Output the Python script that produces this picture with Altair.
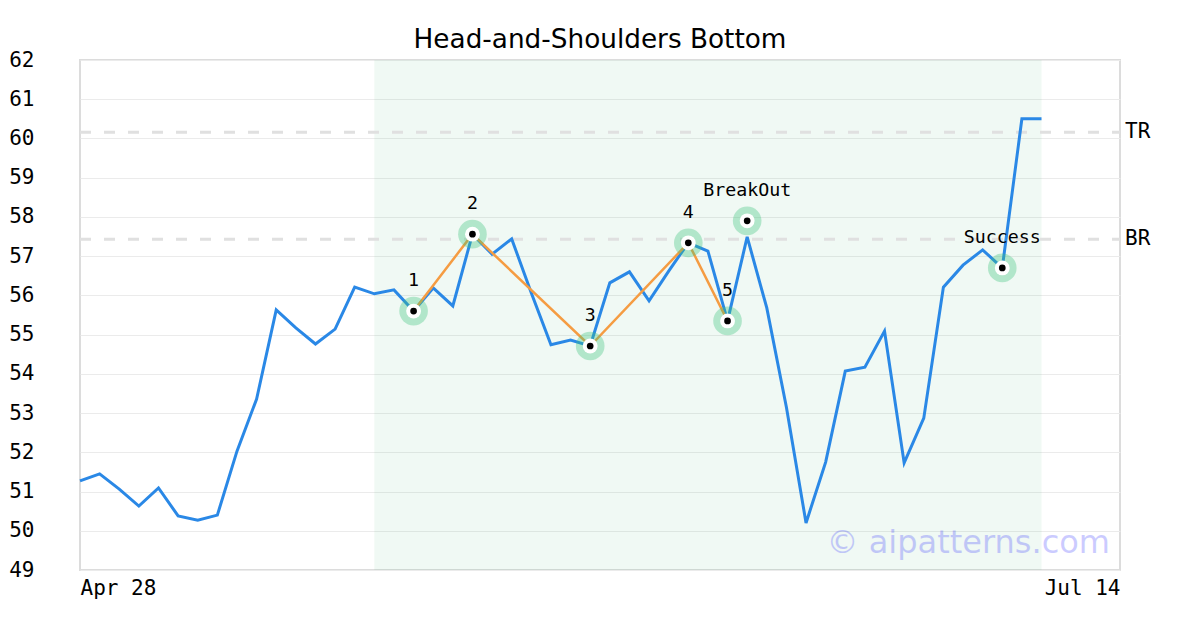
import altair as alt
import pandas as pd

# ---- data ----
closes = [51.27, 51.45, 51.06, 50.63, 51.09, 50.38, 50.27, 50.40, 52.03, 53.36,
          55.63, 55.17, 54.76, 55.14, 56.21, 56.04, 56.14, 55.60, 56.19, 55.73,
          57.56, 57.05, 57.44, 56.06, 54.74, 54.86, 54.71, 56.32, 56.60, 55.86,
          56.62, 57.34, 57.13, 55.35, 57.49, 55.68, 53.15, 50.20, 51.75, 54.07,
          54.17, 55.09, 51.73, 52.87, 56.21, 56.77, 57.16, 56.70, 60.50, 60.50]

x_tick_values = [0, 53]
x_tick_labels = ["Apr 28", "Jul 14"]
y_ticks = list(range(49, 63))

pattern_idx = [17, 20, 26, 31, 33]
pattern_val = [55.60, 57.56, 54.71, 57.34, 55.35]

marker_idx = [17, 20, 26, 31, 33, 34, 47]
marker_val = [55.60, 57.56, 54.71, 57.34, 55.35, 57.90, 56.70]
marker_lab = ["1", "2", "3", "4", "5", "BreakOut", "Success"]

level_names = ["TR", "BR"]
level_vals = [60.16, 57.43]

shade_range = [15, 49]
title_text = "Head-and-Shoulders Bottom"
watermark = "\u00a9 aipatterns.com"

# ---- tables ----
price_df = pd.DataFrame({"i": list(range(len(closes))), "v": closes})
pat_df = pd.DataFrame({"i": pattern_idx, "v": pattern_val})
mark_df = pd.DataFrame({"i": marker_idx, "v": marker_val, "lab": marker_lab})
lvl_df = pd.DataFrame({"name": level_names, "v": level_vals,
                       "i": [x_tick_values[0]] * 2, "i2": [x_tick_values[1]] * 2})
shade_df = pd.DataFrame({"i": [shade_range[0]], "i2": [shade_range[1]],
                         "v": [y_ticks[0]], "v2": [y_ticks[-1]]})

label_expr = "datum.value == %d ? '%s' : '%s'" % (x_tick_values[0], x_tick_labels[0], x_tick_labels[1])

xscale = alt.Scale(domain=[x_tick_values[0], x_tick_values[1]], nice=False, zero=False)
yscale = alt.Scale(domain=[y_ticks[0], y_ticks[-1]], nice=False, zero=False)

x_axis = alt.Axis(values=x_tick_values, labelExpr=label_expr, grid=False, title=None,
                  labelPadding=7, labelFlush=True)
y_axis = alt.Axis(values=y_ticks, grid=True, title=None, labelPadding=46)

X = alt.X("i:Q", scale=xscale, axis=x_axis)
Y = alt.Y("v:Q", scale=yscale, axis=y_axis)

shade = alt.Chart(shade_df).mark_rect(color="#3cb371", opacity=0.08).encode(
    x=X, x2="i2:Q", y=Y, y2="v2:Q",
)

rules = alt.Chart(lvl_df).mark_rule(color="#e0e0e0", strokeWidth=3, strokeDash=[11, 13]).encode(
    x=X, x2="i2:Q", y=Y,
)

rule_labels = alt.Chart(lvl_df).mark_text(
    align="left", baseline="middle", dx=5, font="DejaVu Sans Mono", fontSize=21, color="black"
).encode(
    x=alt.X("i2:Q", scale=xscale, axis=x_axis),
    y=Y,
    text="name:N",
)

price = alt.Chart(price_df).mark_line(color="#2a88e6", strokeWidth=3).encode(x=X, y=Y)

pattern = alt.Chart(pat_df).mark_line(color="#f59c42", strokeWidth=2.5).encode(x=X, y=Y)

base_m = alt.Chart(mark_df).encode(x=X, y=Y)
halo = base_m.mark_circle(color="#3cc47c", opacity=0.35, size=820)
white = base_m.mark_circle(color="white", opacity=1, size=220)
black = base_m.mark_circle(color="black", opacity=1, size=45)
labels = base_m.mark_text(
    dy=-30, align="center", baseline="middle", font="DejaVu Sans Mono", fontSize=18.3, color="black"
).encode(text="lab:N")

wm = alt.Chart(pd.DataFrame({"t": [watermark]})).mark_text(
    align="right", baseline="alphabetic", font="DejaVu Sans", fontSize=32,
    color="#0000ff", opacity=0.2
).encode(x=alt.value(1030), y=alt.value(493), text="t:N")

chart = alt.layer(shade, rules, rule_labels, price, pattern, halo, white, black, labels, wm).properties(
    width=1040,
    height=510,
    autosize=alt.AutoSizeParams(type="none"),
    padding={"left": 72, "top": 52, "right": 72, "bottom": 52},
    title=alt.TitleParams(title_text, font="DejaVu Sans", fontSize=26.3, fontWeight="normal",
                          color="black", anchor="middle", frame="group", offset=-4),
).configure_view(
    stroke="#dcdcdc", strokeWidth=2
).configure_axis(
    domain=False, ticks=False, tickSize=0, labelFont="DejaVu Sans Mono", labelFontSize=21,
    labelColor="black", gridColor="#ebebeb", gridWidth=1
)

chart.save("out.html", embed_options={"renderer": "svg", "actions": False})
